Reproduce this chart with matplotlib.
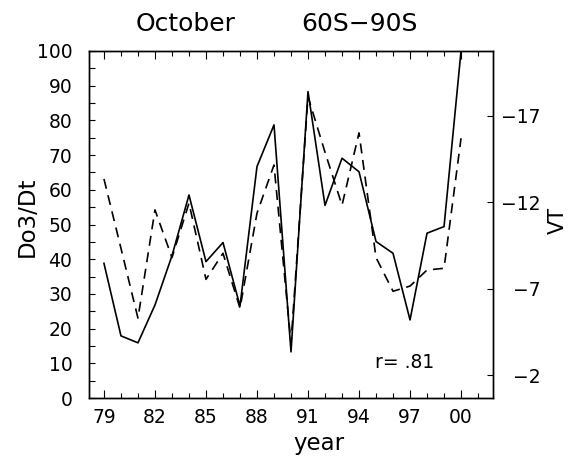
import numpy as np
import matplotlib
matplotlib.use("Agg")
import matplotlib.pyplot as plt
from matplotlib.ticker import MultipleLocator, FixedLocator

# data
years = np.arange(1979, 2001)
do3dt = [38.8, 17.9, 15.9, 26.8, 41.0, 58.5, 39.3, 44.8, 26.5, 66.7, 78.7,
         13.3, 88.3, 55.5, 69.1, 65.2, 45.1, 41.7, 22.5, 47.5, 49.4, 100.0]
vt = [-13.35, -9.34, -5.29, -11.56, -8.8, -11.95, -7.54, -9.05, -5.87, -11.37,
      -14.16, -3.84, -18.12, -14.9, -11.83, -16.02, -8.8, -6.85, -7.15, -8.08,
      -8.18, -15.71]
xtick_years = list(range(1979, 2001, 3))
xtick_labels = ['79', '82', '85', '88', '91', '94', '97', '00']
vt_ticks = [-17, -12, -7, -2]

W, H = 569, 458
plt.rcParams['font.family'] = 'DejaVu Sans'
plt.rcParams['axes.linewidth'] = 1.0

fig = plt.figure(figsize=(W / 100, H / 100), dpi=100)
ax = fig.add_axes([89 / W, 1 - 398 / H, 404 / W, 347 / H])

ax.plot(years, do3dt, '-', color='black', lw=1.2)
ax.set_xlim(1978.12, 2001.88)
ax.set_ylim(0, 100)
ax.yaxis.set_major_locator(MultipleLocator(10))
ax.yaxis.set_minor_locator(MultipleLocator(5))
ax.xaxis.set_major_locator(FixedLocator(xtick_years))
ax.xaxis.set_minor_locator(MultipleLocator(1))
ax.set_xticklabels(xtick_labels)
ax.tick_params(which='both', direction='in', top=True, labelsize=13.5)
ax.tick_params(which='major', length=6, width=0.8)
ax.tick_params(which='minor', length=3.5, width=0.8)
ax.tick_params(axis='y', which='both', length=4, pad=12)
ax.tick_params(axis='x', which='both', pad=7)
ax.text(1994.95, 10.1, 'r= .81', fontsize=13.5, va='center')

ax2 = ax.twinx()
ax2.plot(years, vt, '--', color='black', lw=1.2, dashes=(6, 4))
ax2.set_ylim(-0.67, -20.76)
ax2.yaxis.set_major_locator(FixedLocator(vt_ticks))
ax2.tick_params(axis='y', direction='in', length=4, width=0.8, labelsize=13.5, pad=34)
for lab in ax2.get_yticklabels():
    lab.set_ha('right')

# titles and axis labels
fig.text(186 / W, 1 - 24 / H, 'October', fontsize=18, ha='center', va='center')
fig.text(359 / W, 1 - 24 / H, '60S\u221290S', fontsize=18, ha='center', va='center')
fig.text(27 / W, 1 - 217 / H, 'Do3/Dt', fontsize=16.5, rotation=90, ha='center', va='center')
fig.text(558 / W, 1 - 220 / H, 'VT', fontsize=15, rotation=90, ha='center', va='center')
fig.text(319 / W, 1 - 450 / H, 'year', fontsize=16.5, ha='center', va='baseline')

fig.savefig('out.png', dpi=100)
